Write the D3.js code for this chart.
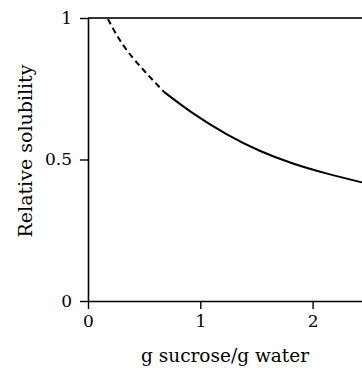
<!DOCTYPE html>
<html>
<head>
<meta charset="utf-8">
<script src="https://cdn.jsdelivr.net/npm/d3@7"></script>
<style>
  body { margin: 0; background: #fff; }
</style>
</head>
<body>
<div id="chart"></div>
<script>
// values
const dashedX = [0.178, 0.356, 0.676];
const dashedY = [0.996, 0.881, 0.739];
const solidX = [0.676, 0.936, 1.233, 1.529, 1.825, 2.122, 2.44];
const solidY = [0.739, 0.663, 0.59, 0.531, 0.486, 0.451, 0.419];
const xTicks = [0, 1, 2];
const yTicks = [0, 0.5, 1];
const yTickLabels = ['0', '0.5', '1'];

const serif = "'DejaVu Serif', serif";

const margin = { top: 18, right: 0, bottom: 67, left: 88 };
const width = 362 - margin.left - margin.right;
const height = 368 - margin.top - margin.bottom;

const svg = d3
  .select('#chart')
  .append('svg')
  .attr('width', width + margin.left + margin.right)
  .attr('height', height + margin.top + margin.bottom)
  .append('g')
  .attr('transform', 'translate(' + margin.left + ',' + margin.top + ')');

const x = d3.scaleLinear().domain([0, 2.44]).range([0, width]);
const y = d3.scaleLinear().domain([0, 1]).range([height, 0]);

// top frame line
svg
  .append('line')
  .attr('x1', 0)
  .attr('x2', width)
  .attr('y1', y(1))
  .attr('y2', y(1))
  .style('stroke', '#333')
  .style('stroke-width', 2);

const xAxis = svg
  .append('g')
  .attr('transform', 'translate(0,' + height + ')')
  .call(d3.axisBottom(x).tickValues(xTicks).tickFormat(d3.format('d')).tickSize(8).tickSizeOuter(0).tickPadding(6));

const yAxis = svg
  .append('g')
  .call(d3.axisLeft(y).tickValues(yTicks).tickFormat((d, i) => yTickLabels[i]).tickSize(8).tickSizeOuter(0).tickPadding(8));

[xAxis, yAxis].forEach(a => {
  a.attr('font-family', null).attr('font-size', null);
  a.select('.domain').style('stroke', '#000').style('stroke-width', 1.6);
  a.selectAll('.tick line').style('stroke', '#000').style('stroke-width', 1.4);
  a.selectAll('text').style('font-size', '17px').style('fill', '#000').style('font-family', serif);
});

const line = d3
  .line()
  .x(d => x(d[0]))
  .y(d => y(d[1]))
  .curve(d3.curveNatural);

svg
  .append('path')
  .datum(d3.zip(dashedX, dashedY))
  .attr('d', line)
  .style('fill', 'none')
  .style('stroke', '#000')
  .style('stroke-width', 2)
  .style('stroke-dasharray', '6,4');

svg
  .append('path')
  .datum(d3.zip(solidX, solidY))
  .attr('d', line)
  .style('fill', 'none')
  .style('stroke', '#000')
  .style('stroke-width', 2);

// axis titles
svg
  .append('text')
  .text('g sucrose/g water')
  .attr('x', width / 2)
  .attr('y', height + 61)
  .attr('text-anchor', 'middle')
  .style('font-family', serif)
  .style('font-size', '18.5px');

svg
  .append('text')
  .text('Relative solubility')
  .attr('transform', 'translate(' + (32 - margin.left) + ',' + 133 + ') rotate(-90)')
  .attr('text-anchor', 'middle')
  .style('font-family', serif)
  .style('font-size', '19px');
</script>
</body>
</html>
